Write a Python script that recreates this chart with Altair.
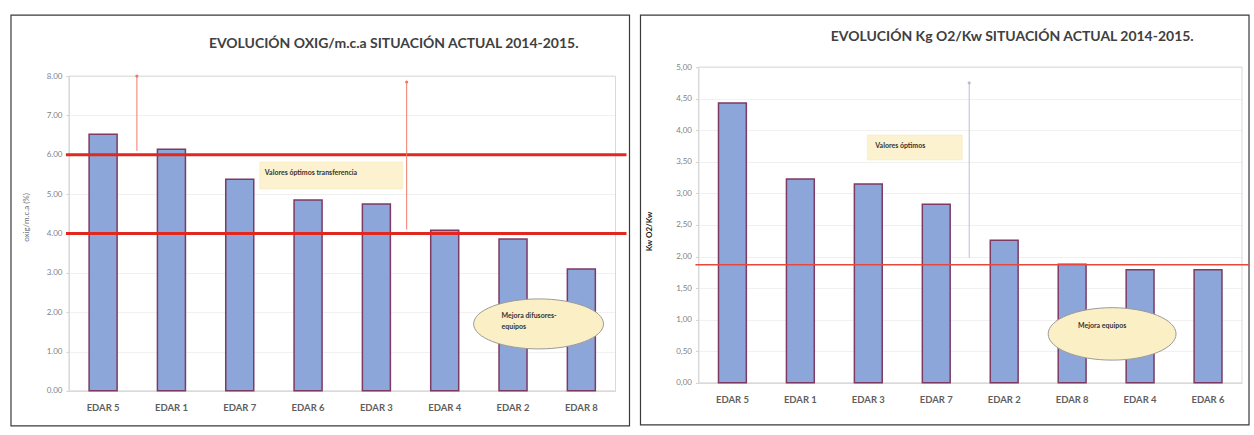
import altair as alt
import pandas as pd

# ---------------- data ----------------
left_cats = ["EDAR 5", "EDAR 1", "EDAR 7", "EDAR 6", "EDAR 3", "EDAR 4", "EDAR 2", "EDAR 8"]
left_vals = [6.52, 6.14, 5.38, 4.85, 4.75, 4.08, 3.86, 3.10]
left_refs = [6.0, 4.0]
left_title = "EVOLUCIÓN OXIG/m.c.a SITUACIÓN ACTUAL 2014-2015."
left_ytitle = "oxig/m.c.a (%)"
left_ticks = [0, 1, 2, 3, 4, 5, 6, 7, 8]

right_cats = ["EDAR 5", "EDAR 1", "EDAR 3", "EDAR 7", "EDAR 2", "EDAR 8", "EDAR 4", "EDAR 6"]
right_vals = [4.43, 3.23, 3.15, 2.83, 2.26, 1.88, 1.79, 1.79]
right_refs = [1.87]
right_title = "EVOLUCIÓN Kg O2/Kw SITUACIÓN ACTUAL 2014-2015."
right_ytitle = "Kw O2/Kw"
right_ticks = [0, 0.5, 1, 1.5, 2, 2.5, 3, 3.5, 4, 4.5, 5]

FONT = "Lato"
BAR_FILL = "#8CA6DA"
BAR_STROKE = "#7D3A62"
one = alt.Data(values=[{"k": 0}])


def text(t, x, y, size=7, weight="bold", color="#333333", align="left"):
    return alt.Chart(one).mark_text(
        text=t, font=FONT, fontSize=size, fontWeight=weight, color=color,
        align=align, baseline="middle"
    ).encode(x=alt.value(x), y=alt.value(y))


def panel(cats, vals, refs, ymax, ticks, ytitle, title, W, H, top, border, dec,
          ylab_expr, ytitle_style, ref_width, ref_color, ref_x2):
    df = pd.DataFrame({"cat": cats, "val": vals})
    yscale = alt.Scale(domain=[0, ymax], nice=False, range=[H, top])
    yaxis = alt.Axis(values=ticks, labelExpr=ylab_expr, labelFont=FONT,
                     labelFontSize=8, labelColor="#7f7f7f", tickSize=3,
                     tickColor="#d0d0d0", domainColor="#d9d9d9",
                     gridColor="#f0f0f0", labelPadding=4,
                     labelOverlap=False, **ytitle_style)

    def Y(field):
        return alt.Y(field, title=ytitle, scale=yscale, axis=yaxis)

    x = alt.X("cat:N", sort=cats, title=None,
              scale=alt.Scale(paddingInner=0.59, paddingOuter=0.295),
              axis=alt.Axis(labelFont=FONT, labelFontSize=9.5, labelFontWeight="bold",
                            labelColor="#5f5f5f", labelAngle=0, ticks=False,
                            labelPadding=12, domainColor="#d9d9d9"))
    bars = alt.Chart(df).mark_bar(fill=BAR_FILL, stroke=BAR_STROKE,
                                  strokeWidth=1.5).encode(x=x, y=Y("val:Q"))

    plotbox = alt.Chart(one).mark_rect(fill=None, stroke="#d9d9d9", strokeWidth=1).encode(
        x=alt.value(0), x2=alt.value(W), y=alt.value(top), y2=alt.value(H))

    refdf = pd.DataFrame({"r": refs})
    reflines = alt.Chart(refdf).mark_rule(color=ref_color, strokeWidth=ref_width).encode(
        y=Y("r:Q"), x=alt.value(-3), x2=alt.value(ref_x2))

    bx0, bx1, by0, by1 = border
    frame = alt.Chart(one).mark_rect(fill=None, stroke="#3a3a3a", strokeWidth=1.2).encode(
        x=alt.value(bx0), x2=alt.value(bx1), y=alt.value(by0), y2=alt.value(by1))

    tx, ty = dec["title"]
    layers = [frame, plotbox, bars, reflines,
              text(title, tx, ty, size=14, color="#404040", align="center")]

    # vertical arrows
    vdf = pd.DataFrame(dec["arrows"])
    layers.append(alt.Chart(vdf).mark_rule(strokeWidth=1).encode(
        x=alt.X("px:Q", scale=None), y=Y("top:Q"), y2="bot:Q",
        color=alt.Color("c:N", scale=None)))
    layers.append(alt.Chart(vdf).mark_point(filled=True, size=10, opacity=1).encode(
        x=alt.X("px:Q", scale=None), y=Y("top:Q"),
        color=alt.Color("c:N", scale=None)))

    # optimum box
    b = dec["box"]
    layers.append(alt.Chart(one).mark_rect(fill="#fdf2cf", stroke="#f3e6bd",
                                           strokeWidth=0.5).encode(
        x=alt.value(b[0]), x2=alt.value(b[1]), y=alt.value(b[2]), y2=alt.value(b[3])))
    layers.append(text(b[4], b[5], b[6]))

    # ellipse
    e = dec["ellipse"]
    ell = "M -1 0 A 1 %s 0 1 0 1 0 A 1 %s 0 1 0 -1 0 Z" % (e[3], e[3])
    layers.append(alt.Chart(one).mark_point(
        shape=ell, size=e[2] ** 2, filled=True, fill="#fbefc6", fillOpacity=1,
        stroke="#9a9a9a", strokeWidth=1, opacity=1).encode(
        x=alt.value(e[0]), y=alt.value(e[1])))
    for t, xx, yy, al in e[4]:
        layers.append(text(t, xx, yy, align=al))

    return alt.layer(*layers).properties(width=W, height=H)


left = panel(
    left_cats, left_vals, left_refs, 8, left_ticks, left_ytitle, left_title,
    547, 324, 9, (-58, 561, -52, 359),
    {
        "title": (325, -23),
        "arrows": [{"px": 68, "top": 8.0, "bot": 6.1, "c": "#ef7a6a"},
                   {"px": 338, "top": 7.85, "bot": 4.1, "c": "#ef7a6a"}],
        "box": (191, 334, 95, 122, "Valores óptimos transferencia", 196, 106),
        "ellipse": (470, 257, 130, 0.385,
                    [("Mejora difusores-", 433, 249, "left"), ("equipos", 433, 260, "left")]),
    },
    "format(datum.value, '.2f')",
    dict(titleFont=FONT, titleFontSize=8, titleFontWeight="normal",
         titleColor="#6f6f6f", titleX=-38, titleY=150, titleAngle=-90),
    3, "#e0281f", 558,
)

right = panel(
    right_cats, right_vals, right_refs, 5, right_ticks, right_ytitle, right_title,
    544, 316, 0, (-58, 551, -52, 358),
    {
        "title": (314, -30),
        "arrows": [{"px": 271, "top": 4.75, "bot": 1.98, "c": "#b9c0d6"}],
        "box": (169, 264, 68, 93, "Valores óptimos", 177, 79),
        "ellipse": (414, 267, 128, 0.41, [("Mejora equipos", 404, 259, "center")]),
    },
    "replace(format(datum.value, '.2f'), '.', ',')",
    dict(titleFont=FONT, titleFontSize=8, titleFontWeight="bold",
         titleColor="#1a1a1a", titleX=-45, titleY=164, titleAngle=-90),
    1.5, "#e8473b", 551,
)

chart = alt.hconcat(left, right, spacing=9).properties(
    padding={"left": 10, "top": 14, "right": 4, "bottom": 4},
    background="white",
).configure_view(stroke=None).configure_concat(spacing=9)

chart.save("out.html", embed_options={"renderer": "svg", "actions": False})
